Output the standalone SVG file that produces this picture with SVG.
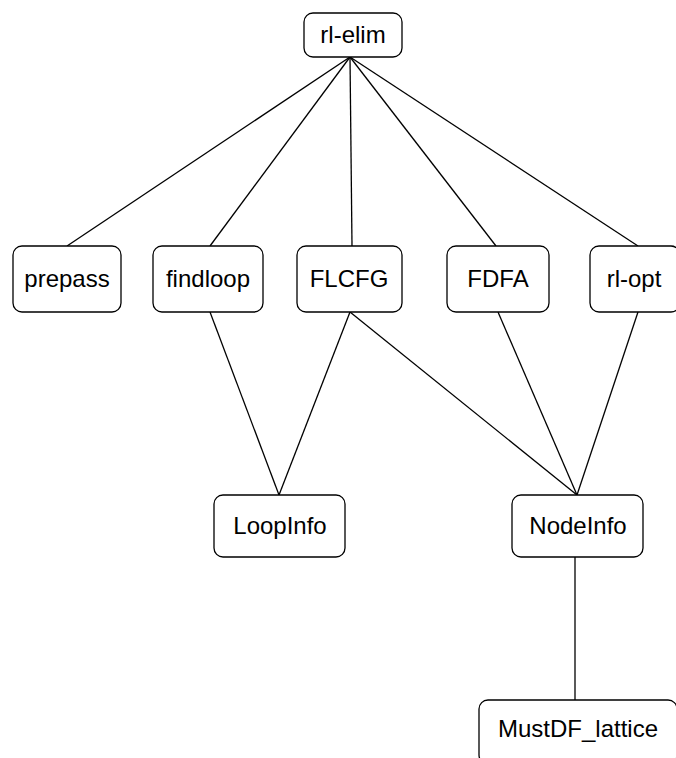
<svg xmlns="http://www.w3.org/2000/svg" width="676" height="758" viewBox="0 0 676 758">
  <style>
    .box { fill: #ffffff; stroke: #000000; stroke-width: 1.3; }
    .lbl { font-family: "Liberation Sans", Arial, sans-serif; font-size: 24px; fill: #000000; text-anchor: middle; }
    .edge { stroke: #000000; stroke-width: 1.3; fill: none; }
  </style>
  <rect width="676" height="758" fill="#ffffff"/>
  <g id="connectors">
    <line class="edge" x1="350" y1="57" x2="67" y2="246"/>
    <line class="edge" x1="350" y1="57" x2="210" y2="246"/>
    <line class="edge" x1="350" y1="57" x2="352" y2="246"/>
    <line class="edge" x1="350" y1="57" x2="496" y2="246"/>
    <line class="edge" x1="350" y1="57" x2="638" y2="246"/>
    <line class="edge" x1="210" y1="312" x2="279" y2="495"/>
    <line class="edge" x1="350" y1="312" x2="279" y2="495"/>
    <line class="edge" x1="350" y1="312" x2="577" y2="495"/>
    <line class="edge" x1="498" y1="312" x2="577" y2="495"/>
    <line class="edge" x1="638" y1="312" x2="577" y2="495"/>
    <line class="edge" x1="575" y1="557" x2="575" y2="700"/>
  </g>
  <g id="rl-elim">
    <rect class="box" x="304" y="13" width="98" height="44" rx="9"/>
    <text class="lbl" x="353" y="43">rl-elim</text>
  </g>
  <g id="prepass">
    <rect class="box" x="13" y="246" width="108" height="66" rx="9"/>
    <text class="lbl" x="67" y="287">prepass</text>
  </g>
  <g id="findloop">
    <rect class="box" x="153" y="246" width="110" height="66" rx="9"/>
    <text class="lbl" x="208" y="287">findloop</text>
  </g>
  <g id="FLCFG">
    <rect class="box" x="297" y="246" width="105" height="66" rx="9"/>
    <text class="lbl" x="349" y="287">FLCFG</text>
  </g>
  <g id="FDFA">
    <rect class="box" x="447" y="246" width="102" height="66" rx="9"/>
    <text class="lbl" x="498" y="287">FDFA</text>
  </g>
  <g id="rl-opt">
    <rect class="box" x="590" y="246" width="90" height="66" rx="9"/>
    <text class="lbl" x="634" y="287">rl-opt</text>
  </g>
  <g id="LoopInfo">
    <rect class="box" x="214" y="495" width="131" height="62" rx="9"/>
    <text class="lbl" x="280" y="534">LoopInfo</text>
  </g>
  <g id="NodeInfo">
    <rect class="box" x="512" y="495" width="131" height="62" rx="9"/>
    <text class="lbl" x="578" y="534">NodeInfo</text>
  </g>
  <g id="MustDF_lattice">
    <rect class="box" x="479" y="700" width="198" height="64" rx="9"/>
    <text class="lbl" x="578" y="737">MustDF_lattice</text>
  </g>
</svg>
